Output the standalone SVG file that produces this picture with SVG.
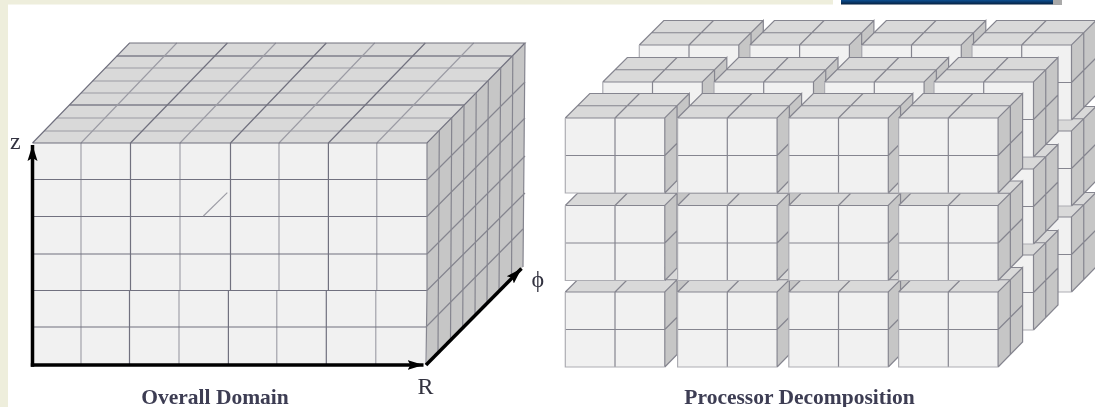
<svg xmlns="http://www.w3.org/2000/svg" xmlns:xlink="http://www.w3.org/1999/xlink" width="1095" height="407" viewBox="0 0 1095 407">
<style>
.front{fill:#f1f1f1}.top{fill:#d9d9d9}.side{fill:#c6c6c6}
.g{fill:none;stroke:#9b9ba4;stroke-width:1.1}
.d{fill:none;stroke:#71717f;stroke-width:1.2}
.b{fill:none;stroke:#85858f;stroke-width:1.2}
.o{fill:none;stroke:#adadb3;stroke-width:1.2}
.axis{fill:none;stroke:#000;stroke-width:3.500}
.t{font-family:"Liberation Serif",serif;fill:#3c3c52}
.cap{font-weight:bold;font-size:21.500px;text-anchor:middle}
.lab{font-size:24px;fill:#333340}
</style>
<defs>
<filter id="soft" filterUnits="userSpaceOnUse" x="0" y="0" width="1095" height="407"><feGaussianBlur stdDeviation="0.45"/></filter>
<linearGradient id="blue" x1="0" y1="0" x2="0" y2="1"><stop offset="0" stop-color="#0d4f92"/><stop offset="1" stop-color="#06203f"/></linearGradient>
<marker id="arrow" markerUnits="userSpaceOnUse" markerWidth="18" markerHeight="12" refX="16" refY="6" orient="auto"><path d="M0 1 L16 6 L0 11 L3 6 Z" fill="#000"/></marker>
<g id="block">
<polygon class="top" points="0,0 99.500,0 124,-24.500 24.500,-24.500"/>
<polygon class="side" points="99.500,0 124,-24.500 124,50 99.500,75"/>
<rect class="front" width="99.500" height="75"/>
<path class="b" d="M49.700 0V75M49.700 0L74.200 -24.500M12.250 -12.250H111.750M0 37.500H99.500M99.500 37.500L124 13M111.750 -12.250V62.750M0 0H99.500L124 -24.500V50L99.500 75M0 0L24.500 -24.500H124M99.500 0V75"/>
<path class="o" d="M0 0V75H99.500"/>
</g>
</defs>
<rect width="1095" height="407" fill="#fff"/>
<g id="page-frame">
<rect width="833" height="4.500" fill="#eeeedc"/>
<rect width="8" height="407" fill="#eeeedc"/>
<rect x="1053" width="9" height="5" fill="#a9a9a9"/>
<rect x="841" width="212" height="4.500" fill="url(#blue)"/>
</g>
<g filter="url(#soft)">
<g id="overall-domain">
<polygon class="top" points="32.500,143 427,143 525,43 129.500,43"/>
<polygon class="side" points="427,143 525,43 523,267 426,365"/>
<rect class="front" x="32.500" y="143" width="394.500" height="222"/>
<path class="g" d="M116.800 56H511.500M105.300 68H500M92.600 81H487.300M81 93H475.800M69.500 105H464.300M56.800 118H451.600M44.200 131H439"/>
<path class="d" d="M116.800 56H511.500M69.500 105H464.300"/>
<path class="g" d="M81 143L176.800 43M180 143L275.800 43M279 143L374.700 43M376.800 143L473.700 43"/>
<path class="d" d="M130.500 143L227.400 43M230.500 143L326.300 43M328.400 143L425.300 43"/>
<path class="g" d="M81 143V365M180 143V290M179 290V365M279 143V290M276.800 290V365M376.800 143V290M375.800 290V365"/>
<path class="d" d="M130.500 143V290M129.500 290V365M230.500 143V290M228.400 290V365M328.400 143V290M326.300 290V365"/>
<path class="d" d="M32.500 179.500H427M32.500 216.500H427M32.500 254H427M32.500 290.500H427M32.500 327H426M32.500 143H427L525 43H129.500L32.500 143"/>
<path class="b" d="M427 143V290L426 365M525 43L523 267"/>
<path class="b" d="M439.300 130.500L438 353M451.700 118L450.500 341M464 105.500L462.700 329M476.200 93L475 317M488.300 80.500L487 304M500.700 68L499 292M512.800 55.500L511.500 280"/>
<path class="b" d="M427 180L525 82M427 216.500L525 118M427 254L525 156M427 290.500L525 193M426 327L523 229"/>
<path class="g" d="M203.400 216L227.300 192.700"/>
</g>
<g id="block-l3-r3-c1"><use xlink:href="#block" href="#block" x="639.300" y="217"/></g>
<g id="block-l3-r3-c2"><use xlink:href="#block" href="#block" x="749.900" y="217"/></g>
<g id="block-l3-r3-c3"><use xlink:href="#block" href="#block" x="861.800" y="217"/></g>
<g id="block-l3-r3-c4"><use xlink:href="#block" href="#block" x="972" y="217"/></g>
<g id="block-l3-r2-c1"><use xlink:href="#block" href="#block" x="639.300" y="131"/></g>
<g id="block-l3-r2-c2"><use xlink:href="#block" href="#block" x="749.900" y="131"/></g>
<g id="block-l3-r2-c3"><use xlink:href="#block" href="#block" x="861.800" y="131"/></g>
<g id="block-l3-r2-c4"><use xlink:href="#block" href="#block" x="972" y="131"/></g>
<g id="block-l3-r1-c1"><use xlink:href="#block" href="#block" x="639.300" y="45"/></g>
<g id="block-l3-r1-c2"><use xlink:href="#block" href="#block" x="749.900" y="45"/></g>
<g id="block-l3-r1-c3"><use xlink:href="#block" href="#block" x="861.800" y="45"/></g>
<g id="block-l3-r1-c4"><use xlink:href="#block" href="#block" x="972" y="45"/></g>
<g id="block-l2-r3-c1"><use xlink:href="#block" href="#block" x="602.800" y="255"/></g>
<g id="block-l2-r3-c2"><use xlink:href="#block" href="#block" x="714" y="255"/></g>
<g id="block-l2-r3-c3"><use xlink:href="#block" href="#block" x="824.600" y="255"/></g>
<g id="block-l2-r3-c4"><use xlink:href="#block" href="#block" x="934" y="255"/></g>
<g id="block-l2-r2-c1"><use xlink:href="#block" href="#block" x="602.800" y="169"/></g>
<g id="block-l2-r2-c2"><use xlink:href="#block" href="#block" x="714" y="169"/></g>
<g id="block-l2-r2-c3"><use xlink:href="#block" href="#block" x="824.600" y="169"/></g>
<g id="block-l2-r2-c4"><use xlink:href="#block" href="#block" x="934" y="169"/></g>
<g id="block-l2-r1-c1"><use xlink:href="#block" href="#block" x="602.800" y="82"/></g>
<g id="block-l2-r1-c2"><use xlink:href="#block" href="#block" x="714" y="82"/></g>
<g id="block-l2-r1-c3"><use xlink:href="#block" href="#block" x="824.600" y="82"/></g>
<g id="block-l2-r1-c4"><use xlink:href="#block" href="#block" x="934" y="82"/></g>
<g id="block-l1-r3-c1"><use xlink:href="#block" href="#block" x="565.300" y="292"/></g>
<g id="block-l1-r3-c2"><use xlink:href="#block" href="#block" x="677.600" y="292"/></g>
<g id="block-l1-r3-c3"><use xlink:href="#block" href="#block" x="788.800" y="292"/></g>
<g id="block-l1-r3-c4"><use xlink:href="#block" href="#block" x="898.600" y="292"/></g>
<g id="block-l1-r2-c1"><use xlink:href="#block" href="#block" x="565.300" y="205.500"/></g>
<g id="block-l1-r2-c2"><use xlink:href="#block" href="#block" x="677.600" y="205.500"/></g>
<g id="block-l1-r2-c3"><use xlink:href="#block" href="#block" x="788.800" y="205.500"/></g>
<g id="block-l1-r2-c4"><use xlink:href="#block" href="#block" x="898.600" y="205.500"/></g>
<g id="block-l1-r1-c1"><use xlink:href="#block" href="#block" x="565.300" y="118"/></g>
<g id="block-l1-r1-c2"><use xlink:href="#block" href="#block" x="677.600" y="118"/></g>
<g id="block-l1-r1-c3"><use xlink:href="#block" href="#block" x="788.800" y="118"/></g>
<g id="block-l1-r1-c4"><use xlink:href="#block" href="#block" x="898.600" y="118"/></g>
<g id="connectors">
<path class="axis" d="M32.500 366.700V145" marker-end="url(#arrow)"/>
<path class="axis" d="M30.800 365H423.500" marker-end="url(#arrow)"/>
<path class="axis" d="M426 365L521.500 268.500" marker-end="url(#arrow)"/>
</g>
<g id="labels">
<text class="t lab" x="10" y="149">z</text>
<text class="t lab" x="537.700" y="287" text-anchor="middle">ϕ</text>
<text class="t lab" x="417.500" y="394">R</text>
<text class="t cap" x="215" y="403.500">Overall Domain</text>
<text class="t cap" x="799.500" y="403.500">Processor Decomposition</text>
</g>
</g>
</svg>
